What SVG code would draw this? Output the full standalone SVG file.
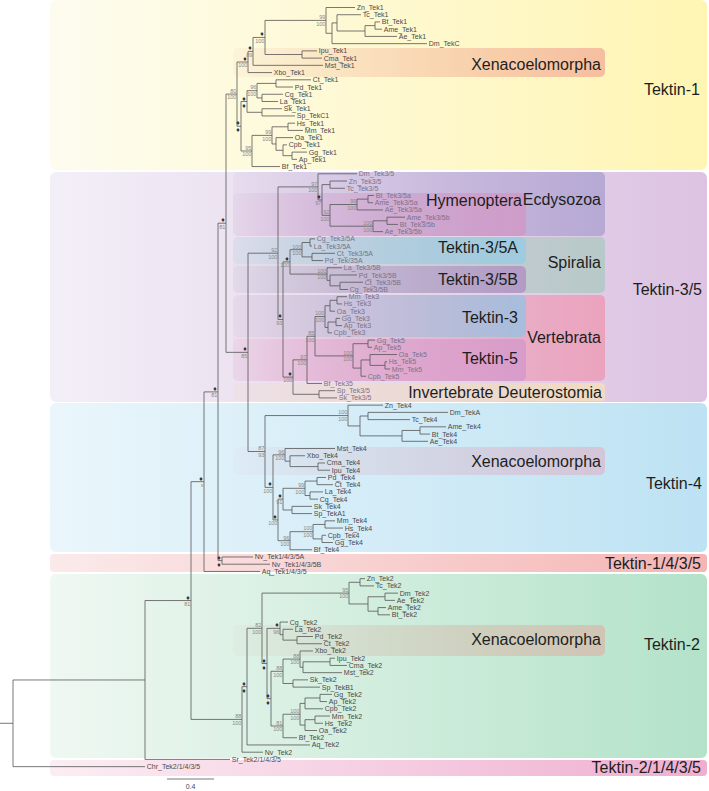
<svg xmlns="http://www.w3.org/2000/svg" width="709" height="791" viewBox="0 0 709 791">
<style>
.ln{fill:none;stroke:#555;stroke-width:0.8}
.lf{font-family:"Liberation Sans",Arial,sans-serif;font-size:7px;fill:#4a4a4a}
.lf3{font-family:"Liberation Sans",Arial,sans-serif;font-size:7px;fill:#7a7288}
.sv{font-family:"Liberation Sans",Arial,sans-serif;font-size:5.5px;fill:#888;text-anchor:end}
.dm{font-family:"DejaVu Sans",sans-serif;font-size:5.5px;fill:#333;text-anchor:end}
.big{font-family:"Liberation Sans",Arial,sans-serif;font-size:16px;fill:#1e1e1e;text-anchor:end}
</style>
<defs>
<linearGradient id="g1"><stop offset="0" stop-color="#fdfcef"/><stop offset="1" stop-color="#fff5b3"/></linearGradient>
<linearGradient id="g35"><stop offset="0" stop-color="#f3eff7"/><stop offset="1" stop-color="#dcc3e2"/></linearGradient>
<linearGradient id="g4"><stop offset="0" stop-color="#eaf6fb"/><stop offset="1" stop-color="#bde2f3"/></linearGradient>
<linearGradient id="g1435"><stop offset="0" stop-color="#fbeaea"/><stop offset="1" stop-color="#f5b5b5"/></linearGradient>
<linearGradient id="g2"><stop offset="0" stop-color="#eff8f2"/><stop offset="1" stop-color="#b3e2c9"/></linearGradient>
<linearGradient id="g21435"><stop offset="0" stop-color="#fbeef3"/><stop offset="1" stop-color="#efaed0"/></linearGradient>
<linearGradient id="sx1"><stop offset="0" stop-color="#f5bea0" stop-opacity="0.1"/><stop offset="1" stop-color="#f5bea0"/></linearGradient>
<linearGradient id="sec"><stop offset="0" stop-color="#b6a9d4" stop-opacity="0.1"/><stop offset="1" stop-color="#b6a9d4"/></linearGradient>
<linearGradient id="shy"><stop offset="0" stop-color="#cf9cc8" stop-opacity="0.1"/><stop offset="1" stop-color="#cf9cc8"/></linearGradient>
<linearGradient id="s3a"><stop offset="0" stop-color="#9fcbe0" stop-opacity="0.15"/><stop offset="1" stop-color="#9fcbe0"/></linearGradient>
<linearGradient id="ssp"><stop offset="0" stop-color="#b7c9c8" stop-opacity="0.1"/><stop offset="1" stop-color="#b7c9c8"/></linearGradient>
<linearGradient id="s3b"><stop offset="0" stop-color="#b39bc6" stop-opacity="0.1"/><stop offset="1" stop-color="#b39bc6"/></linearGradient>
<linearGradient id="s3"><stop offset="0" stop-color="#a6bedc" stop-opacity="0.1"/><stop offset="1" stop-color="#a6bedc"/></linearGradient>
<linearGradient id="sve"><stop offset="0" stop-color="#eba3bd" stop-opacity="0.1"/><stop offset="1" stop-color="#eba3bd"/></linearGradient>
<linearGradient id="s5"><stop offset="0" stop-color="#d89ccb" stop-opacity="0.1"/><stop offset="1" stop-color="#d89ccb"/></linearGradient>
<linearGradient id="sid"><stop offset="0" stop-color="#f0dcc2" stop-opacity="0.2"/><stop offset="1" stop-color="#f0dcc2"/></linearGradient>
<linearGradient id="sx4"><stop offset="0" stop-color="#d5c5d8" stop-opacity="0.1"/><stop offset="1" stop-color="#d5c5d8"/></linearGradient>
<linearGradient id="sx2"><stop offset="0" stop-color="#d2c4b4" stop-opacity="0.1"/><stop offset="1" stop-color="#d2c4b4"/></linearGradient>
</defs>
<rect width="709" height="791" fill="#fff"/>
<g id="panels">
<rect x="50" y="0" width="657" height="170" rx="6" fill="url(#g1)"/>
<rect x="50" y="172" width="657" height="230" rx="6" fill="url(#g35)"/>
<rect x="50" y="403" width="657" height="149" rx="6" fill="url(#g4)"/>
<rect x="50" y="554" width="657" height="18" rx="4" fill="url(#g1435)"/>
<rect x="50" y="574" width="657" height="184" rx="6" fill="url(#g2)"/>
<rect x="50" y="760" width="657" height="16" rx="4" fill="url(#g21435)"/>
<rect x="233" y="48" width="372" height="29" rx="5" fill="url(#sx1)"/>
<rect x="233" y="172" width="372" height="64" rx="5" fill="url(#sec)"/>
<rect x="233" y="193" width="293" height="43" rx="5" fill="url(#shy)"/>
<rect x="233" y="237" width="372" height="56" rx="5" fill="url(#ssp)"/>
<rect x="233" y="237" width="293" height="27" rx="5" fill="url(#s3a)"/>
<rect x="233" y="266" width="293" height="27" rx="5" fill="url(#s3b)"/>
<rect x="233" y="295" width="372" height="86" rx="5" fill="url(#sve)"/>
<rect x="233" y="295" width="293" height="42" rx="5" fill="url(#s3)"/>
<rect x="233" y="339" width="293" height="42" rx="5" fill="url(#s5)"/>
<rect x="233" y="383" width="372" height="18" rx="4" fill="url(#sid)"/>
<rect x="233" y="447" width="372" height="28" rx="5" fill="url(#sx4)"/>
<rect x="233" y="625" width="372" height="31" rx="5" fill="url(#sx2)"/>
<text class="big" x="700" y="95">Tektin-1</text>
<text class="big" x="601" y="70">Xenacoelomorpha</text>
<text class="big" x="601" y="205">Ecdysozoa</text>
<text class="big" x="522" y="206">Hymenoptera</text>
<text class="big" x="518" y="253">Tektin-3/5A</text>
<text class="big" x="601" y="268">Spiralia</text>
<text class="big" x="518" y="285">Tektin-3/5B</text>
<text class="big" x="702" y="295">Tektin-3/5</text>
<text class="big" x="518" y="323">Tektin-3</text>
<text class="big" x="601" y="343">Vertebrata</text>
<text class="big" x="518" y="364">Tektin-5</text>
<text class="big" x="602" y="398">Invertebrate Deuterostomia</text>
<text class="big" x="601" y="467">Xenacoelomorpha</text>
<text class="big" x="702" y="489">Tektin-4</text>
<text class="big" x="701" y="569">Tektin-1/4/3/5</text>
<text class="big" x="601" y="645">Xenacoelomorpha</text>
<text class="big" x="700" y="650">Tektin-2</text>
<text class="big" x="701" y="773">Tektin-2/1/4/3/5</text>
</g>
<g id="connectors" class="ln">
<path d="M375,21.96V29.19M375,21.96H380M375,29.19H382 M365,25.6V36.42M365,25.6H375M365,36.42H397 M337,14.73V31M337,14.73H361M337,31H365 M332,22.9V43.65M332,22.9H337M332,43.65H427 M326,7.5V33.3M326,7.5H355M326,33.3H332 M302,50.88V58.11M302,50.88H317M302,58.11H322 M265,20.4V54.5M265,20.4H326M265,54.5H302 M253,37.45V65.34M253,37.45H265M253,65.34H323 M248,51.4V72.57M248,51.4H253M248,72.57H272"/>
<path d="M276,79.8V87.03M276,79.8H311M276,87.03H293 M262,94.26V101.49M262,94.26H283M262,101.49H278 M257,83.4V97.9M257,83.4H276M257,97.9H262 M262,108.72V115.95M262,108.72H282M262,115.95H295 M247,90.65V112.3M247,90.65H257M247,112.3H262 M288,123.18V130.41M288,123.18H295M288,130.41H303 M292,152.1V159.33M292,152.1H307M292,159.33H297 M283,144.87V155.7M283,144.87H287M283,155.7H292 M276,137.64V150.3M276,137.64H293M276,150.3H283 M272,126.8V143.97M272,126.8H288M272,143.97H276 M252,135.4V166.56M252,135.4H272M252,166.56H280 M241,101.5V151M241,101.5H247M241,151H252 M237,62V126.25M237,62H248M237,126.25H241"/>
<path d="M330,181.02V188.25M330,181.02H347M330,188.25H345 M368,195.48V202.71M368,195.48H374M368,202.71H373 M357,199.1V209.94M357,199.1H368M357,209.94H383 M387,217.17V224.4M387,217.17H405M387,224.4H398 M373,220.8V231.63M373,220.8H387M373,231.63H383 M330,204.5V226.2M330,204.5H357M330,226.2H373 M322,184.6V215.35M322,184.6H330M322,215.35H330 M318,173.79V199.98M318,173.79H357M318,199.98H322"/>
<path d="M310,238.86V246.09M310,238.86H315M310,246.09H312 M312,253.32V260.55M312,253.32H335M312,260.55H323 M302,242.5V256.9M302,242.5H310M302,256.9H312 M340,282.24V289.47M340,282.24H363M340,289.47H348 M330,275.01V285.86M330,275.01H357M330,285.86H340 M327,267.78V280.4M327,267.78H342M327,280.4H330 M290,249.7V274.1M290,249.7H302M290,274.1H327"/>
<path d="M337,296.7V303.93M337,296.7H347M337,303.93H342 M330,300.3V311.16M330,300.3H337M330,311.16H335 M336,318.39V325.62M336,318.39H340M336,325.62H342 M328,322V332.85M328,322H336M328,332.85H332 M325,305.73V327.43M325,305.73H330M325,327.43H328 M368,340.08V347.31M368,340.08H375M368,347.31H372 M385,361.77V369M385,361.77H387M385,369H390 M370,354.54V365.39M370,354.54H397M370,365.39H385 M361,359.96V376.23M361,359.96H370M361,376.23H366 M353,343.7V368.1M353,343.7H368M353,368.1H361 M315,316.58V355.9M315,316.58H325M315,355.9H353 M307,336.24V383.46M307,336.24H315M307,383.46H322 M319,390.69V397.92M319,390.69H335M319,397.92H337 M293,359.85V394.3M293,359.85H307M293,394.3H319 M283,261.9V377.08M283,261.9H290M283,377.08H293 M278,186.9V319.49M278,186.9H318M278,319.49H283"/>
<path d="M368,412.38V419.61M368,412.38H448M368,419.61H410 M420,426.84V434.07M420,426.84H446M420,434.07H430 M402,430.46V441.3M402,430.46H420M402,441.3H428 M360,416V435.88M360,416H368M360,435.88H402 M348,405.15V425.94M348,405.15H383M348,425.94H360 M318,462.99V470.22M318,462.99H325M318,470.22H330 M290,455.76V466.6M290,455.76H305M290,466.6H318 M285,448.53V461.18M285,448.53H335M285,461.18H290 M317,477.45V484.68M317,477.45H326M317,484.68H333 M310,491.91V499.14M310,491.91H323M310,499.14H318 M305,481.07V495.53M305,481.07H317M305,495.53H310 M292,506.37V513.6M292,506.37H312M292,513.6H312 M283,488.3V509.99M283,488.3H305M283,509.99H292 M325,520.83V528.06M325,520.83H335M325,528.06H343 M322,535.29V542.52M322,535.29H326M322,542.52H333 M313,524.45V538.9M313,524.45H325M313,538.9H322 M290,531.68V549.75M290,531.68H313M290,549.75H312 M278,499.14V540.7M278,499.14H283M278,540.7H290 M273,454.86V519.9M273,454.86H285M273,519.9H278 M265,415.55V487.4M265,415.55H348M265,487.4H273 M248,253.2V451.5M248,253.2H278M248,451.5H265 M226,94.1V352.35M226,94.1H237M226,352.35H248"/>
<path d="M222,556.98V564.21M222,556.98H253M222,564.21H270 M218,223.2V560.6M218,223.2H226M218,560.6H222 M204,391.9V571.44M204,391.9H218M204,571.44H260"/>
<path d="M360,578.67V585.9M360,578.67H365M360,585.9H374 M385,593.13V600.36M385,593.13H398M385,600.36H395 M378,607.59V614.82M378,607.59H386M378,614.82H390 M368,596.75V611.2M368,596.75H385M368,611.2H378 M349,582.29V603.98M349,582.29H360M349,603.98H368 M297,636.51V643.74M297,636.51H313M297,643.74H322 M283,629.28V640.13M283,629.28H293M283,640.13H297 M280,622.05V634.7M280,622.05H288M280,634.7H283 M330,658.2V665.43M330,658.2H335M330,665.43H347 M303,661.8V672.66M303,661.8H330M303,672.66H342 M300,650.97V667.23M300,650.97H313M300,667.23H303 M293,679.89V687.12M293,679.89H308M293,687.12H320 M283,659.1V683.5M283,659.1H300M283,683.5H293 M320,694.35V701.58M320,694.35H332M320,701.58H327 M305,697.97V708.81M305,697.97H320M305,708.81H323 M315,716.04V723.27M315,716.04H330M315,723.27H323 M305,719.66V730.5M305,719.66H315M305,730.5H317 M300,703.39V725.08M300,703.39H305M300,725.08H305 M283,714.24V737.73M283,714.24H300M283,737.73H297 M271,671.3V725.99M271,671.3H283M271,725.99H283 M267,628.38V698.65M267,628.38H280M267,698.65H271 M262,593.1V663.5M262,593.1H349M262,663.5H267 M247,628.3V744.96M247,628.3H262M247,744.96H310 M242,686.63V752.19M242,686.63H247M242,752.19H263 M191,481.67V719.41M191,481.67H204M191,719.41H242 M145,600.54V759.42M145,600.54H191M145,759.42H230 M13,679.98V766.65M13,679.98H145M13,766.65H145M0,723.3H13"/>
<path d="M167,779H214"/>
</g>
<g id="scale"><text class="lf" x="190.5" y="788.5" text-anchor="middle">0.4</text></g>
<g id="leaves-tek1" class="lf">
<g id="Zn_Tek1"><text x="356.8" y="10">Zn_Tek1</text></g>
<g id="Tc_Tek1"><text x="362.8" y="17.23">Tc_Tek1</text></g>
<g id="Bt_Tek1"><text x="381.8" y="24.46">Bt_Tek1</text></g>
<g id="Ame_Tek1"><text x="383.8" y="31.69">Ame_Tek1</text></g>
<g id="Ae_Tek1"><text x="398.8" y="38.92">Ae_Tek1</text></g>
<g id="Dm_TekC"><text x="428.8" y="46.15">Dm_TekC</text></g>
<g id="Ipu_Tek1"><text x="318.8" y="53.38">Ipu_Tek1</text></g>
<g id="Cma_Tek1"><text x="323.8" y="60.61">Cma_Tek1</text></g>
<g id="Mst_Tek1"><text x="324.8" y="67.84">Mst_Tek1</text></g>
<g id="Xbo_Tek1"><text x="273.8" y="75.07">Xbo_Tek1</text></g>
<g id="Ct_Tek1"><text x="312.8" y="82.3">Ct_Tek1</text></g>
<g id="Pd_Tek1"><text x="294.8" y="89.53">Pd_Tek1</text></g>
<g id="Cg_Tek1"><text x="284.8" y="96.76">Cg_Tek1</text></g>
<g id="La_Tek1"><text x="279.8" y="103.99">La_Tek1</text></g>
<g id="Sk_Tek1"><text x="283.8" y="111.22">Sk_Tek1</text></g>
<g id="Sp_TekC1"><text x="296.8" y="118.45">Sp_TekC1</text></g>
<g id="Hs_Tek1"><text x="296.8" y="125.68">Hs_Tek1</text></g>
<g id="Mm_Tek1"><text x="304.8" y="132.91">Mm_Tek1</text></g>
<g id="Oa_Tek1"><text x="294.8" y="140.14">Oa_Tek1</text></g>
<g id="Cpb_Tek1"><text x="288.8" y="147.37">Cpb_Tek1</text></g>
<g id="Gg_Tek1"><text x="308.8" y="154.6">Gg_Tek1</text></g>
<g id="Ap_Tek1"><text x="298.8" y="161.83">Ap_Tek1</text></g>
<g id="Bf_Tek1"><text x="281.8" y="169.06">Bf_Tek1</text></g>
</g>
<g id="leaves-tek35" class="lf3">
<g id="Dm_Tek35"><text x="358.8" y="176.29">Dm_Tek3/5</text></g>
<g id="Zn_Tek35"><text x="348.8" y="183.52">Zn_Tek3/5</text></g>
<g id="Tc_Tek35"><text x="346.8" y="190.75">Tc_Tek3/5</text></g>
<g id="Bt_Tek35a"><text x="375.8" y="197.98">Bt_Tek3/5a</text></g>
<g id="Ame_Tek35a"><text x="374.8" y="205.21">Ame_Tek3/5a</text></g>
<g id="Ae_Tek35a"><text x="384.8" y="212.44">Ae_Tek3/5a</text></g>
<g id="Ame_Tek35b"><text x="406.8" y="219.67">Ame_Tek3/5b</text></g>
<g id="Bt_Tek35b"><text x="399.8" y="226.9">Bt_Tek3/5b</text></g>
<g id="Ae_Tek35b"><text x="384.8" y="234.13">Ae_Tek3/5b</text></g>
<g id="Cg_Tek35A"><text x="316.8" y="241.36">Cg_Tek3/5A</text></g>
<g id="La_Tek35A"><text x="313.8" y="248.59">La_Tek3/5A</text></g>
<g id="Ct_Tek35A"><text x="336.8" y="255.82">Ct_Tek3/5A</text></g>
<g id="Pd_Tek35A"><text x="324.8" y="263.05">Pd_Tek/35A</text></g>
<g id="La_Tek35B"><text x="343.8" y="270.28">La_Tek3/5B</text></g>
<g id="Pd_Tek35B"><text x="358.8" y="277.51">Pd_Tek3/5B</text></g>
<g id="Ct_Tek35B"><text x="364.8" y="284.74">Ct_Tek3/5B</text></g>
<g id="Cg_Tek35B"><text x="349.8" y="291.97">Cg_Tek3/5B</text></g>
<g id="Mm_Tek3"><text x="348.8" y="299.2">Mm_Tek3</text></g>
<g id="Hs_Tek3"><text x="343.8" y="306.43">Hs_Tek3</text></g>
<g id="Oa_Tek3"><text x="336.8" y="313.66">Oa_Tek3</text></g>
<g id="Gg_Tek3"><text x="341.8" y="320.89">Gg_Tek3</text></g>
<g id="Ap_Tek3"><text x="343.8" y="328.12">Ap_Tek3</text></g>
<g id="Cpb_Tek3"><text x="333.8" y="335.35">Cpb_Tek3</text></g>
<g id="Gg_Tek5"><text x="376.8" y="342.58">Gg_Tek5</text></g>
<g id="Ap_Tek5"><text x="373.8" y="349.81">Ap_Tek5</text></g>
<g id="Oa_Tek5"><text x="398.8" y="357.04">Oa_Tek5</text></g>
<g id="Hs_Tek5"><text x="388.8" y="364.27">Hs_Tek5</text></g>
<g id="Mm_Tek5"><text x="391.8" y="371.5">Mm_Tek5</text></g>
<g id="Cpb_Tek5"><text x="367.8" y="378.73">Cpb_Tek5</text></g>
<g id="Bf_Tek35"><text x="323.8" y="385.96">Bf_Tek35</text></g>
<g id="Sp_Tek35"><text x="336.8" y="393.19">Sp_Tek3/5</text></g>
<g id="Sk_Tek35"><text x="338.8" y="400.42">Sk_Tek3/5</text></g>
</g>
<g id="leaves-tek4" class="lf">
<g id="Zn_Tek4"><text x="384.8" y="407.65">Zn_Tek4</text></g>
<g id="Dm_TekA"><text x="449.8" y="414.88">Dm_TekA</text></g>
<g id="Tc_Tek4"><text x="411.8" y="422.11">Tc_Tek4</text></g>
<g id="Ame_Tek4"><text x="447.8" y="429.34">Ame_Tek4</text></g>
<g id="Bt_Tek4"><text x="431.8" y="436.57">Bt_Tek4</text></g>
<g id="Ae_Tek4"><text x="429.8" y="443.8">Ae_Tek4</text></g>
<g id="Mst_Tek4"><text x="336.8" y="451.03">Mst_Tek4</text></g>
<g id="Xbo_Tek4"><text x="306.8" y="458.26">Xbo_Tek4</text></g>
<g id="Cma_Tek4"><text x="326.8" y="465.49">Cma_Tek4</text></g>
<g id="Ipu_Tek4"><text x="331.8" y="472.72">Ipu_Tek4</text></g>
<g id="Pd_Tek4"><text x="327.8" y="479.95">Pd_Tek4</text></g>
<g id="Ct_Tek4"><text x="334.8" y="487.18">Ct_Tek4</text></g>
<g id="La_Tek4"><text x="324.8" y="494.41">La_Tek4</text></g>
<g id="Cg_Tek4"><text x="319.8" y="501.64">Cg_Tek4</text></g>
<g id="Sk_Tek4"><text x="313.8" y="508.87">Sk_Tek4</text></g>
<g id="Sp_TekA1"><text x="313.8" y="516.1">Sp_TekA1</text></g>
<g id="Mm_Tek4"><text x="336.8" y="523.33">Mm_Tek4</text></g>
<g id="Hs_Tek4"><text x="344.8" y="530.56">Hs_Tek4</text></g>
<g id="Cpb_Tek4"><text x="327.8" y="537.79">Cpb_Tek4</text></g>
<g id="Gg_Tek4"><text x="334.8" y="545.02">Gg_Tek4</text></g>
<g id="Bf_Tek4"><text x="313.8" y="552.25">Bf_Tek4</text></g>
<g id="Nv_Tek1435A"><text x="254.8" y="559.48">Nv_Tek1/4/3/5A</text></g>
<g id="Nv_Tek1435B"><text x="271.8" y="566.71">Nv_Tek1/4/3/5B</text></g>
<g id="Aq_Tek1435"><text x="261.8" y="573.94">Aq_Tek1/4/3/5</text></g>
</g>
<g id="leaves-tek2" class="lf">
<g id="Zn_Tek2"><text x="366.8" y="581.17">Zn_Tek2</text></g>
<g id="Tc_Tek2"><text x="375.8" y="588.4">Tc_Tek2</text></g>
<g id="Dm_Tek2"><text x="399.8" y="595.63">Dm_Tek2</text></g>
<g id="Ae_Tek2"><text x="396.8" y="602.86">Ae_Tek2</text></g>
<g id="Ame_Tek2"><text x="387.8" y="610.09">Ame_Tek2</text></g>
<g id="Bt_Tek2"><text x="391.8" y="617.32">Bt_Tek2</text></g>
<g id="Cg_Tek2"><text x="289.8" y="624.55">Cg_Tek2</text></g>
<g id="La_Tek2"><text x="294.8" y="631.78">La_Tek2</text></g>
<g id="Pd_Tek2"><text x="314.8" y="639.01">Pd_Tek2</text></g>
<g id="Ct_Tek2"><text x="323.8" y="646.24">Ct_Tek2</text></g>
<g id="Xbo_Tek2"><text x="314.8" y="653.47">Xbo_Tek2</text></g>
<g id="Ipu_Tek2"><text x="336.8" y="660.7">Ipu_Tek2</text></g>
<g id="Cma_Tek2"><text x="348.8" y="667.93">Cma_Tek2</text></g>
<g id="Mst_Tek2"><text x="343.8" y="675.16">Mst_Tek2</text></g>
<g id="Sk_Tek2"><text x="309.8" y="682.39">Sk_Tek2</text></g>
<g id="Sp_TekB1"><text x="321.8" y="689.62">Sp_TekB1</text></g>
<g id="Gg_Tek2"><text x="333.8" y="696.85">Gg_Tek2</text></g>
<g id="Ap_Tek2"><text x="328.8" y="704.08">Ap_Tek2</text></g>
<g id="Cpb_Tek2"><text x="324.8" y="711.31">Cpb_Tek2</text></g>
<g id="Mm_Tek2"><text x="331.8" y="718.54">Mm_Tek2</text></g>
<g id="Hs_Tek2"><text x="324.8" y="725.77">Hs_Tek2</text></g>
<g id="Oa_Tek2"><text x="318.8" y="733">Oa_Tek2</text></g>
<g id="Bf_Tek2"><text x="298.8" y="740.23">Bf_Tek2</text></g>
<g id="Aq_Tek2"><text x="311.8" y="747.46">Aq_Tek2</text></g>
<g id="Nv_Tek2"><text x="264.8" y="754.69">Nv_Tek2</text></g>
<g id="Sr_Tek21435"><text x="231.8" y="761.92">Sr_Tek2/1/4/3/5</text></g>
<g id="Chr_Tek21435"><text x="146.8" y="769.15">Chr_Tek2/1/4/3/5</text></g>
</g>
<g id="support">
<text class="sv" x="325.4" y="19.2">99</text><text class="sv" x="325.4" y="25.7">100</text>
<text class="dm" x="264.4" y="36.4">♦</text><text class="sv" x="264.4" y="42.75">100</text>
<text class="dm" x="252.4" y="50.4">♦</text><text class="sv" x="252.4" y="56.7">89</text>
<text class="dm" x="247.4" y="61">♦</text><text class="sv" x="247.4" y="67.3">100</text>
<text class="sv" x="236.4" y="92.9">80</text><text class="sv" x="236.4" y="99.4">100</text>
<text class="sv" x="256.4" y="89.45">96</text><text class="sv" x="256.4" y="95.95">100</text>
<text class="dm" x="246.4" y="100.5">♦</text><text class="dm" x="246.4" y="107.7">♦</text>
<text class="sv" x="271.4" y="134.2">99</text><text class="sv" x="271.4" y="140.7">100</text>
<text class="sv" x="251.4" y="149.8">95</text><text class="sv" x="251.4" y="156.3">100</text>
<text class="dm" x="240.4" y="125.25">♦</text><text class="dm" x="240.4" y="132.45">♦</text>
<text class="sv" x="317.4" y="185.7">97</text><text class="sv" x="317.4" y="192.2">100</text>
<text class="dm" x="321.4" y="198.98">♦</text><text class="sv" x="321.4" y="205.28">97</text>
<text class="sv" x="329.4" y="214.15">92</text><text class="sv" x="329.4" y="220.65">100</text>
<text class="sv" x="356.4" y="203.3">99</text><text class="sv" x="356.4" y="209.8">100</text>
<text class="sv" x="372.4" y="225">100</text><text class="sv" x="372.4" y="231.5">100</text>
<text class="sv" x="277.4" y="252">92</text><text class="sv" x="277.4" y="258.5">100</text>
<text class="sv" x="301.4" y="248.5">100</text><text class="sv" x="301.4" y="255">100</text>
<text class="dm" x="289.4" y="260.9">♦</text><text class="sv" x="289.4" y="267.2">100</text>
<text class="sv" x="326.4" y="272.9">100</text><text class="sv" x="326.4" y="279.4">100</text>
<text class="sv" x="324.4" y="315.38">100</text><text class="sv" x="324.4" y="321.88">100</text>
<text class="sv" x="314.4" y="335.04">85</text><text class="sv" x="314.4" y="341.54">100</text>
<text class="sv" x="352.4" y="354.7">100</text><text class="sv" x="352.4" y="361.2">100</text>
<text class="sv" x="306.4" y="358.65">97</text><text class="sv" x="306.4" y="365.15">100</text>
<text class="dm" x="292.4" y="376.08">♦</text><text class="sv" x="292.4" y="382.38">100</text>
<text class="dm" x="282.4" y="318.49">♦</text><text class="sv" x="282.4" y="324.79">93</text>
<text class="dm" x="247.4" y="351.35">♦</text><text class="sv" x="247.4" y="357.65">85</text>
<text class="dm" x="225.4" y="222.2">♦</text><text class="sv" x="225.4" y="228.5">81</text>
<text class="dm" x="217.4" y="390.9">♦</text><text class="sv" x="217.4" y="397.2">81</text>
<text class="sv" x="347.4" y="414.35">100</text><text class="sv" x="347.4" y="420.85">100</text>
<text class="sv" x="264.4" y="450.3">87</text><text class="sv" x="264.4" y="456.8">93</text>
<text class="sv" x="284.4" y="453.66">96</text><text class="sv" x="284.4" y="460.16">100</text>
<text class="dm" x="272.4" y="486.4">♦</text><text class="sv" x="272.4" y="492.7">100</text>
<text class="sv" x="304.4" y="487.1">99</text><text class="sv" x="304.4" y="493.6">100</text>
<text class="dm" x="282.4" y="498.14">♦</text><text class="sv" x="282.4" y="504.44">91</text>
<text class="sv" x="312.4" y="530.48">100</text><text class="sv" x="312.4" y="536.98">100</text>
<text class="sv" x="289.4" y="539.5">96</text><text class="sv" x="289.4" y="546">100</text>
<text class="dm" x="277.4" y="518.9">♦</text><text class="sv" x="277.4" y="525.2">100</text>
<text class="dm" x="203.4" y="480.67">♦</text><text class="sv" x="203.4" y="486.97">x</text>
<text class="dm" x="221.4" y="559.6">♦</text><text class="dm" x="221.4" y="566.8">♦</text>
<text class="dm" x="190.4" y="599.54">♦</text><text class="sv" x="190.4" y="605.84">81</text>
<text class="sv" x="348.4" y="591.9">95</text><text class="sv" x="348.4" y="598.4">100</text>
<text class="sv" x="261.4" y="627.1">82</text><text class="sv" x="261.4" y="633.6">100</text>
<text class="dm" x="279.4" y="627.38">♦</text><text class="sv" x="279.4" y="633.68">96</text>
<text class="dm" x="266.4" y="662.5">♦</text><text class="dm" x="266.4" y="669.7">♦</text>
<text class="sv" x="299.4" y="657.9">88</text><text class="sv" x="299.4" y="664.4">100</text>
<text class="sv" x="282.4" y="670.1">88</text><text class="sv" x="282.4" y="676.6">100</text>
<text class="sv" x="299.4" y="713.04">100</text><text class="sv" x="299.4" y="719.54">100</text>
<text class="sv" x="282.4" y="724.79">81</text><text class="sv" x="282.4" y="731.29">100</text>
<text class="dm" x="270.4" y="697.65">♦</text><text class="dm" x="270.4" y="704.85">♦</text>
<text class="dm" x="246.4" y="685.63">♦</text><text class="dm" x="246.4" y="692.83">♦</text>
<text class="sv" x="241.4" y="718.21">88</text><text class="sv" x="241.4" y="724.71">100</text>
</g>
</svg>
